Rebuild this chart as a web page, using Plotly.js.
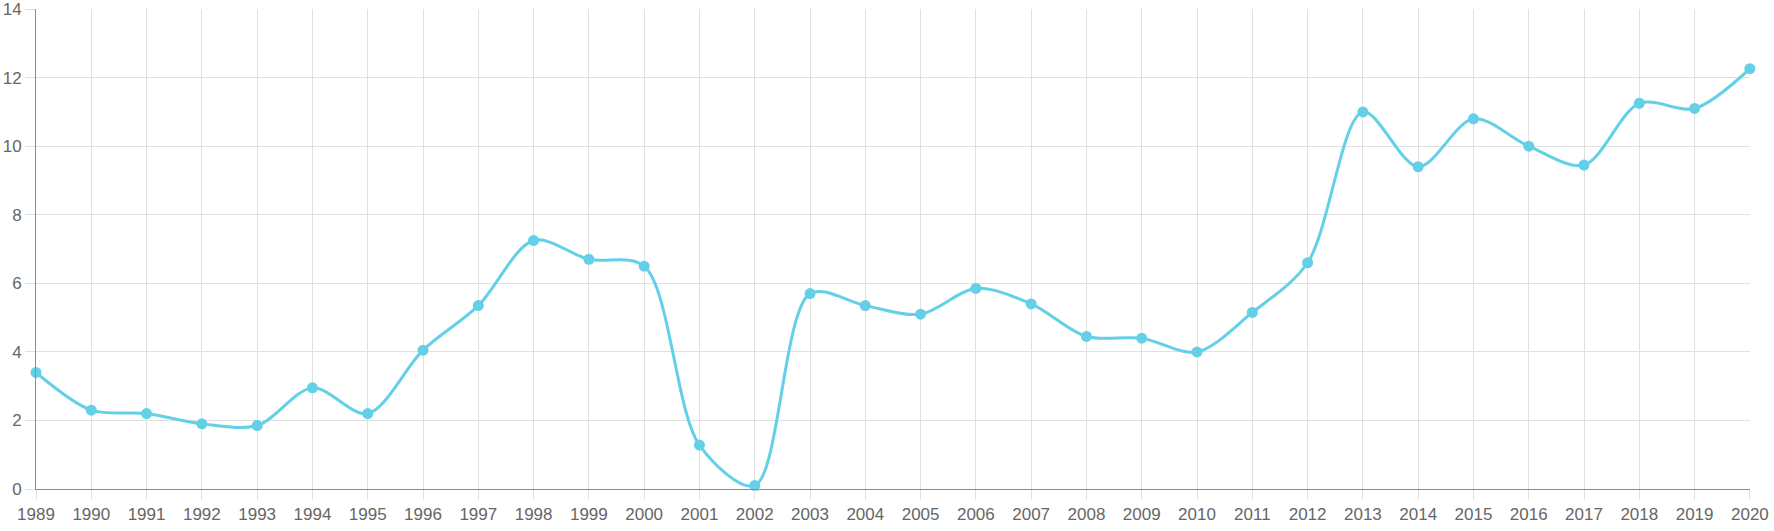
<!DOCTYPE html>
<html>
<head>
<meta charset="utf-8">
<script src="https://cdn.plot.ly/plotly-3.0.1.min.js"></script>
<style>html,body{margin:0;padding:0;background:#fff;}#chart{width:1774px;height:531px;}</style>
</head>
<body>
<div id="chart"></div>
<script>
const years = [1989,1990,1991,1992,1993,1994,1995,1996,1997,1998,1999,2000,2001,2002,2003,2004,2005,2006,2007,2008,2009,2010,2011,2012,2013,2014,2015,2016,2017,2018,2019,2020];
const values = [3.4,2.3,2.2,1.9,1.85,2.95,2.2,4.05,5.35,7.25,6.7,6.5,1.28,0.1,5.7,5.35,5.1,5.85,5.4,4.45,4.4,4.0,5.15,6.6,11.0,9.4,10.8,10.0,9.45,11.25,11.1,12.26];
const yTicks = [0,2,4,6,8,10,12,14];

const trace = {
  x: years, y: values,
  type: 'scatter', mode: 'lines+markers',
  line: {color: '#63d0e8', width: 3, shape: 'spline', smoothing: 0.9},
  marker: {color: '#63d0e8', size: 11},
  cliponaxis: false,
  hoverinfo: 'x+y'
};
const layout = {
  width: 1774, height: 531,
  margin: {l: 36, r: 24, t: 9, b: 42},
  paper_bgcolor: '#fff', plot_bgcolor: '#fff',
  showlegend: false,
  font: {family: 'Liberation Sans, Arial, sans-serif', size: 17, color: '#666'},
  xaxis: {
    range: [1989, 2020.002], tickmode: 'array', tickvals: years, ticktext: years.map(String),
    showgrid: true, gridcolor: '#e0e0e0', gridwidth: 1,
    showline: true, linecolor: '#8c8c8c', linewidth: 1,
    ticks: 'outside', ticklen: 10, tickcolor: '#e0e0e0', tickwidth: 1,
    zeroline: false, fixedrange: true
  },
  yaxis: {
    range: [0, 14.002], tickmode: 'array', tickvals: yTicks, ticktext: yTicks.map(String),
    showgrid: true, gridcolor: '#e0e0e0', gridwidth: 1,
    showline: true, linecolor: '#8c8c8c', linewidth: 1,
    ticks: 'outside', ticklen: 10, tickcolor: '#e0e0e0', tickwidth: 1,
    zeroline: false, fixedrange: true
  }
};
Plotly.newPlot('chart', [trace], layout, {displayModeBar: false, staticPlot: true});
</script>
</body>
</html>
